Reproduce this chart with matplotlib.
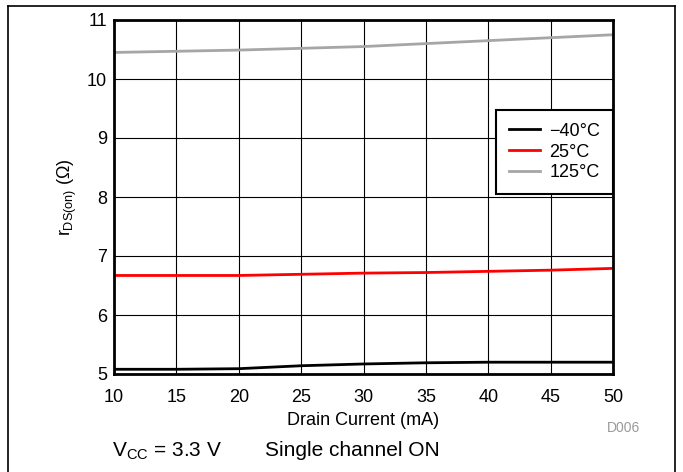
import matplotlib
matplotlib.use('Agg')
import matplotlib.pyplot as plt
from matplotlib.lines import Line2D

plt.rcParams['font.family'] = ['Liberation Sans', 'DejaVu Sans']
plt.rcParams['mathtext.fontset'] = 'custom'
plt.rcParams['mathtext.rm'] = 'Liberation Sans'
plt.rcParams['mathtext.it'] = 'Liberation Sans'

current_ma = [10, 15, 20, 25, 30, 35, 40, 45, 50]
r_m40 = [5.08, 5.08, 5.09, 5.14, 5.17, 5.19, 5.20, 5.20, 5.20]
r_25 = [6.67, 6.67, 6.67, 6.69, 6.71, 6.72, 6.74, 6.76, 6.79]
r_125 = [10.45, 10.47, 10.49, 10.52, 10.55, 10.60, 10.65, 10.70, 10.75]

series_labels = ['\u221240\u00b0C', '25\u00b0C', '125\u00b0C']
series_colors = ['black', '#ff0000', '#a6a6a6']

fig = plt.figure(figsize=(6.83, 4.72), dpi=100)
ax = fig.add_axes([114 / 683, 1 - 374 / 472, (613 - 114) / 683, (374 - 20) / 472])

for vals, lab, col in zip([r_m40, r_25, r_125], series_labels, series_colors):
    ax.plot(current_ma, vals, color=col, lw=2, label=lab)

ax.set_xlim(10, 50)
ax.set_ylim(5, 11)
ax.set_xticks(range(10, 51, 5))
ax.set_yticks(range(5, 12))
ax.grid(True, color='black', lw=0.8)
ax.tick_params(length=0, labelsize=13)
ax.tick_params(axis='x', pad=11)
ax.tick_params(axis='y', pad=5)
for s in ax.spines.values():
    s.set_linewidth(2)

ax.set_xlabel('Drain Current (mA)', fontsize=13, labelpad=4)
ax.set_ylabel(r'$r_{\mathrm{DS(on)}}$ ($\Omega$)', fontsize=13, labelpad=6)

leg = ax.legend(loc='upper right', bbox_to_anchor=(1.0, 0.746), fontsize=13,
                fancybox=False, framealpha=1, edgecolor='black',
                handlelength=1.75, handletextpad=0.5, borderpad=0.7,
                borderaxespad=0, labelspacing=0.22)
leg.get_frame().set_linewidth(1.5)

fig.text(624 / 683, 1 - 428 / 472, 'D006', color='#999999', fontsize=10, ha='center', va='center')
fig.text(112 / 683, 1 - 451 / 472, r'V$_{\mathrm{CC}}$ = 3.3 V', fontsize=15, ha='left', va='center')
fig.text(265 / 683, 1 - 450 / 472, 'Single channel ON', fontsize=15, ha='left', va='center')

# page frame
fig.add_artist(Line2D([8 / 683, 8 / 683], [0, 1 - 6 / 472], color='black', lw=1.2))
fig.add_artist(Line2D([675 / 683, 675 / 683], [0, 1 - 6 / 472], color='black', lw=1.2))
fig.add_artist(Line2D([8 / 683, 675 / 683], [1 - 6 / 472, 1 - 6 / 472], color='black', lw=1.2))

fig.savefig('out.png', dpi=100)
